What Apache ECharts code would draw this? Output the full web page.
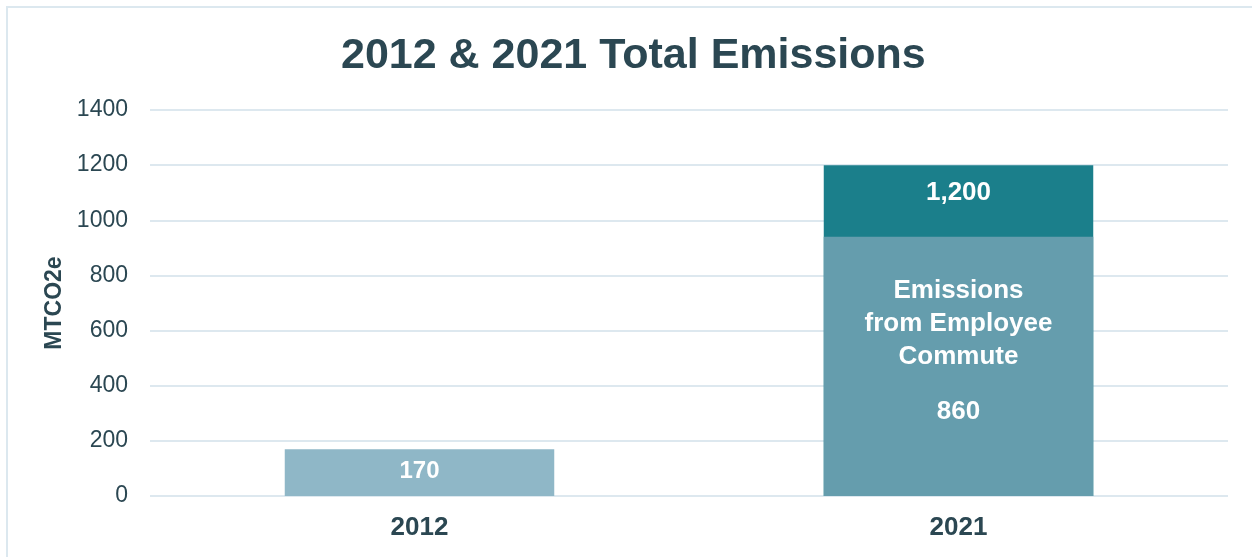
<!DOCTYPE html>
<html>
<head>
<meta charset="utf-8">
<script src="https://cdn.jsdelivr.net/npm/echarts@6/dist/echarts.min.js"></script>
<style>
html, body { margin: 0; padding: 0; background: #fff; }
#main { width: 1252px; height: 557px; }
</style>
</head>
<body>
<div id="main"></div>
<script>
// data
var categories = ['2012', '2021'];
var baseValues = [170, 940];      // 2012 total / 2021 commute part
var totalValues = [null, 1200];   // 2021 total
var baseLabels = ['170', 'commute'];
var totalLabels = ['', '1,200'];
var commuteLines = ['Emissions', 'from Employee', 'Commute'];
var commuteValue = '860';
var yTicks = { min: 0, max: 1400, interval: 200 };

var textColor = '#2b4752';
var baseColors = ['#8fb7c7', '#659dad'];
var font = 'Liberation Sans';

var chart = echarts.init(document.getElementById('main'));

var baseData = baseValues.map(function (v, i) {
	return {
		value: v,
		itemStyle: { color: baseColors[i] },
		label: { offset: i === 1 ? [0, -4] : [0, -1] }
	};
});

var option = {
	backgroundColor: '#fff',
	animation: false,
	title: {
		text: '2012 & 2021 Total Emissions',
		left: 336,
		top: 30,
		textStyle: { fontFamily: font, fontSize: 43, fontWeight: 'bold', color: textColor }
	},
	graphic: [{
		type: 'rect',
		shape: { x: 7, y: 7, width: 1400, height: 700 },
		style: { fill: 'none', stroke: '#dce8ef', lineWidth: 2 }
	}],
	grid: { left: 150, right: 24, top: 110, bottom: 61 },
	xAxis: {
		type: 'category',
		data: categories,
		axisLine: { show: false },
		axisTick: { show: false },
		axisLabel: { margin: 19, fontFamily: font, fontSize: 26, fontWeight: 'bold', color: textColor }
	},
	yAxis: {
		type: 'value',
		min: yTicks.min,
		max: yTicks.max,
		interval: yTicks.interval,
		name: 'MTCO2e',
		nameLocation: 'middle',
		nameGap: 82,
		nameTextStyle: { fontFamily: font, fontSize: 23, fontWeight: 'bold', color: textColor },
		axisLabel: {
			margin: 22, fontFamily: font, fontSize: 23, color: textColor,
			formatter: function (v) { return String(v); }
		},
		splitLine: { lineStyle: { color: '#dde8ef', width: 2 } }
	},
	series: [
		{
			name: 'total',
			type: 'bar',
			data: totalValues,
			barWidth: '50%',
			barGap: '-100%',
			itemStyle: { color: '#1b7f8b' },
			label: {
				show: true,
				position: 'insideTop',
				distance: 15,
				formatter: function (p) { return totalLabels[p.dataIndex]; },
				fontFamily: font, fontSize: 26, fontWeight: 'bold', color: '#fff'
			}
		},
		{
			name: 'base',
			type: 'bar',
			data: baseData,
			barWidth: '50%',
			barGap: '-100%',
			label: {
				show: true,
				position: 'inside',
				formatter: function (p) {
					if (baseLabels[p.dataIndex] === 'commute') {
						return commuteLines.map(function (s) { return '{a|' + s + '}'; }).join('\n') + '\n{b|' + commuteValue + '}';
					}
					return '{c|' + baseLabels[p.dataIndex] + '}';
				},
				rich: {
					a: { fontFamily: font, fontSize: 26, fontWeight: 'bold', color: '#fff', lineHeight: 33 },
					b: { fontFamily: font, fontSize: 26, fontWeight: 'bold', color: '#fff', lineHeight: 77 },
					c: { fontFamily: font, fontSize: 24, fontWeight: 'bold', color: '#fff' }
				}
			}
		}
	]
};
chart.setOption(option);
</script>
</body>
</html>
